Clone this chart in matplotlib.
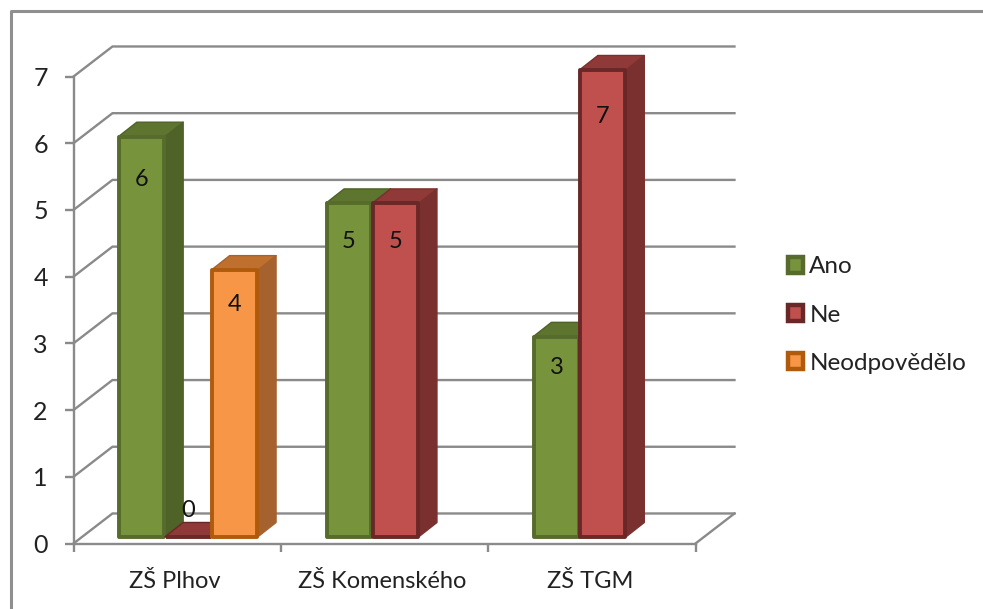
import numpy as np
import matplotlib
matplotlib.use("Agg")
import matplotlib.pyplot as plt
from matplotlib.lines import Line2D
from matplotlib.patches import Patch

plt.rcParams["font.family"] = ["Lato", "DejaVu Sans"]

categories = ["ZŠ Plhov", "ZŠ Komenského", "ZŠ TGM"]
series_names = ["Ano", "Ne", "Neodpovědělo"]
ano = [6, 5, 3]
ne = [0, 5, 7]
neodpovedelo = [4, np.nan, np.nan]
y_ticks = [0, 1, 2, 3, 4, 5, 6, 7]

GRID = "#8a8a8a"
TEXT = "#222222"
# face, edge, side, top
STYLES = [
    ("#77933C", "#566B2C", "#4F6228", "#5E7530"),
    ("#C0504D", "#692827", "#7A302E", "#8F3A38"),
    ("#F79646", "#B05A0C", "#A5622E", "#C0702E"),
]

# depth of the fake 3D box, in data units
WALL_DX, WALL_DY = 0.188, 0.45
BAR_DX, BAR_DY = 0.088, 0.215
BAR_W = 0.224
BAR_X0 = 0.217
BAR_Y0 = 0.10

fig = plt.figure(figsize=(9.83, 6.09), dpi=100)
W, H = 983, 609
ax = fig.add_axes([73.5 / W, (H - 543.5) / H, 622 / W, 467 / H])
ax.set_xlim(0, 3)
ax.set_ylim(0, 7)
ax.patch.set_visible(False)

# ── outer chart frame (left and top only) ─────────────
fig.add_artist(Line2D([10.5 / W, 10.5 / W, 1], [0, (H - 10.5) / H, (H - 10.5) / H],
                      color="#8f8f8f", lw=2.2, transform=fig.transFigure))

# ── wall and floor lines ──────────────────────────────
for v in y_ticks:
    ax.plot([0, WALL_DX, 3 + WALL_DX], [v, v + WALL_DY, v + WALL_DY],
            color=GRID, lw=1.7, clip_on=False, zorder=1, solid_joinstyle="miter")
ax.plot([3, 3 + WALL_DX], [0, WALL_DY], color=GRID, lw=1.7, clip_on=False, zorder=1)

for s in ["top", "right"]:
    ax.spines[s].set_visible(False)
for s in ["left", "bottom"]:
    ax.spines[s].set_color(GRID)
    ax.spines[s].set_linewidth(1.7)

ax.set_yticks(y_ticks)
ax.set_xticks([0, 1, 2, 3])
ax.set_xticklabels([])
ax.set_xticks([i + 0.49 for i in range(len(categories))], minor=True)
ax.set_xticklabels(categories, minor=True, fontsize=17, color=TEXT)
ax.tick_params(axis="x", which="major", length=6, width=1.7, color=GRID)
ax.tick_params(axis="x", which="minor", length=0, pad=19.5)
ax.tick_params(axis="y", length=6.5, width=1.7, color=GRID, pad=12, labelsize=18, labelcolor=TEXT)

# ── bars: front from ax.bar, side and top as polygons ─
for s_idx, values in enumerate([ano, ne, neodpovedelo]):
    face, edge, side, top = STYLES[s_idx]
    for c_idx, v in enumerate(values):
        if np.isnan(v):
            continue
        x0 = c_idx + BAR_X0 + s_idx * BAR_W
        x1 = x0 + BAR_W
        y0 = BAR_Y0
        y1 = BAR_Y0 + v
        z = 3 + s_idx
        ax.fill([x1, x1 + BAR_DX, x1 + BAR_DX, x1],
                [y0, y0 + BAR_DY, y1 + BAR_DY, y1],
                facecolor=side, edgecolor=side, lw=1, joinstyle="round", zorder=z, clip_on=False)
        ax.fill([x0, x0 + BAR_DX, x1 + BAR_DX, x1],
                [y1, y1 + BAR_DY, y1 + BAR_DY, y1],
                facecolor=top, edgecolor=edge if v == 0 else side, lw=1, joinstyle="round",
                zorder=z, clip_on=False)
        ax.bar(x0 + BAR_W / 2, v, BAR_W - 0.008, bottom=y0, color=face, edgecolor=edge, lw=2.8,
               zorder=z + 0.1, clip_on=False, joinstyle="round")
        label_y = y0 + 0.4 if v == 0 else y0 + 0.94 * v - 0.28
        ax.text(x0 + BAR_W / 2, label_y, str(v), ha="center", va="center",
                fontsize=17, color="#111111", zorder=10, clip_on=False)

# ── legend ────────────────────────────────────────────
handles = [Patch(facecolor=st[0], edgecolor=st[1], lw=3.2) for st in STYLES]
leg = ax.legend(handles, series_names, loc="center left", bbox_to_anchor=(788 / W, (H - 315) / H),
                bbox_transform=fig.transFigure, frameon=False, fontsize=17.5, labelspacing=1.12,
                handlelength=0.62, handleheight=0.62, handletextpad=0.26, borderpad=0, borderaxespad=0)
for t in leg.get_texts():
    t.set_color(TEXT)

fig.savefig("out.png", dpi=100)
plt.close()
